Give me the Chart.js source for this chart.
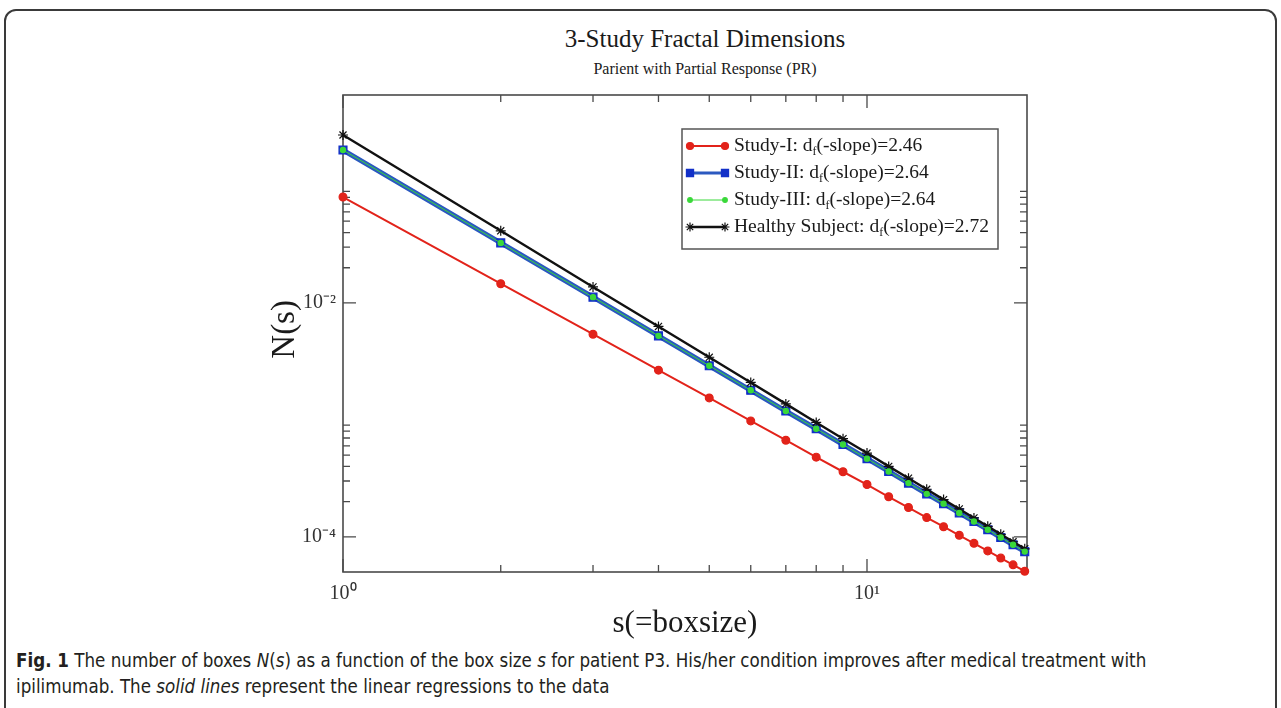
<!DOCTYPE html>
<html>
<head>
<meta charset="utf-8">
<script src="https://cdn.jsdelivr.net/npm/chart.js@4.4.0/dist/chart.umd.min.js"></script>
<style>
  html, body { margin: 0; padding: 0; background: #fff; }
  body { width: 1281px; height: 708px; position: relative; overflow: hidden; }
  #box { position: absolute; left: 4px; top: 9px; width: 1273px; height: 760px; border: 2px solid #3a3a3a; border-radius: 12px; box-sizing: border-box; }
  #wrap { position: absolute; left: 0; top: 0; width: 1281px; height: 645px; }
  .ttl { position: absolute; left: 363px; width: 684px; text-align: center; font-family: "Liberation Serif", "Times New Roman", serif; color: #1a1a1a; white-space: nowrap; }
  #title { top: 25px; font-size: 25px; }
  #subtitle { top: 60px; font-size: 16px; }
  #caption { position: absolute; left: 16px; top: 648px; font-family: "Liberation Sans Narrow", "DejaVu Sans Condensed", sans-serif; font-size: 18.6px; line-height: 26px; color: #231f20; white-space: nowrap; }
</style>
</head>
<body>
<div id="box"></div>
<div id="title" class="ttl">3-Study Fractal Dimensions</div>
<div id="subtitle" class="ttl">Parient with Partial Response (PR)</div>
<div id="wrap"><canvas id="chart"></canvas></div>
<div id="caption"><b>Fig. 1</b> The number of boxes <i>N</i>(<i>s</i>) as a function of the box size <i>s</i> for patient P3. His/her condition improves after medical treatment with<br>ipilimumab. The <i>solid lines</i> represent the linear regressions to the data</div>
<script>
// box sizes s and box counts N(s)
const boxSizes = [1, 2, 3, 4, 5, 6, 7, 8, 9, 10, 11, 12, 13, 14, 15, 16, 17, 18, 19, 20];
const studyI = [0.0805, 0.0146, 0.0054, 0.00266, 0.00154, 0.00098, 0.00067, 0.00048, 0.00036, 0.00028,
                0.00022, 0.000178, 0.000146, 0.000122, 0.000103, 0.000088, 0.0000757, 0.0000658, 0.0000576, 0.0000508];
const studyII = [0.203, 0.0326, 0.0112, 0.00523, 0.0029, 0.00179, 0.00119, 0.00084, 0.000615, 0.000466,
                 0.000362, 0.000288, 0.000233, 0.000192, 0.00016, 0.000135, 0.000115, 0.0000986, 0.0000855, 0.0000747];
const studyIII = [0.203, 0.0326, 0.0112, 0.00523, 0.0029, 0.00179, 0.00119, 0.00084, 0.000615, 0.000466,
                  0.000362, 0.000288, 0.000233, 0.000192, 0.00016, 0.000135, 0.000115, 0.0000986, 0.0000855, 0.0000747];
const healthy = [0.273, 0.0414, 0.0137, 0.00629, 0.00343, 0.00209, 0.00137, 0.00095, 0.00069, 0.00052,
                 0.0004, 0.000317, 0.000255, 0.000208, 0.000173, 0.000145, 0.000123, 0.000105, 0.0000907, 0.0000789];

const seriesNames = ["Study-I", "Study-II", "Study-III", "Healthy Subject"];
const slopes = ["2.46", "2.64", "2.64", "2.72"];

const xMajor = [1, 10];
const xMinor = [2, 3, 4, 5, 6, 7, 8, 9];
const yMajor = [1e-4, 1e-2];
const yMinor = [2e-4, 3e-4, 4e-4, 5e-4, 6e-4, 7e-4, 8e-4, 9e-4, 2e-2, 3e-2, 4e-2, 5e-2, 6e-2, 7e-2, 8e-2, 9e-2];

const SERIF = "'Liberation Serif', 'Times New Roman', serif";
const sup = { "0": "\u2070", "1": "\u00b9", "2": "\u00b2", "3": "\u00b3", "4": "\u2074", "-": "\u207b" };
const powLabel = v => "10" + String(Math.round(Math.log10(v))).split("").map(c => sup[c]).join("");

const styles = [
  { color: "#e2231a", width: 2, point: "circle", r: 3.9, pcolor: "#e2231a", order: 3 },
  { color: "#2b59c0", width: 5, point: "rect", r: 5.6, pcolor: "#1230c8", order: 2 },
  { color: "#3ad83a", width: 1, point: "circle", r: 2.6, pcolor: "#3ad83a", order: 0 },
  { color: "#111111", width: 2.4, point: "star", r: 5, pcolor: "#111111", order: 1 }
];
const seriesData = [studyI, studyII, studyIII, healthy];

// frame, inward ticks on all four sides, and the legend box
const framePlugin = {
  id: "frame",
  beforeDatasetsDraw(chart) {
    const { ctx, chartArea: a, scales: { x, y } } = chart;
    ctx.save();
    ctx.strokeStyle = "#4a4a4a";
    ctx.lineWidth = 1.6;
    ctx.strokeRect(a.left, a.top, a.right - a.left, a.bottom - a.top);
    ctx.lineWidth = 1.3;
    const tick = (vals, len) => {
      vals.forEach(v => {
        const px = x.getPixelForValue(v);
        ctx.beginPath();
        ctx.moveTo(px, a.bottom); ctx.lineTo(px, a.bottom - len);
        ctx.moveTo(px, a.top); ctx.lineTo(px, a.top + len);
        ctx.stroke();
      });
    };
    const ytick = (vals, len) => {
      vals.forEach(v => {
        const py = y.getPixelForValue(v);
        ctx.beginPath();
        ctx.moveTo(a.left, py); ctx.lineTo(a.left + len, py);
        ctx.moveTo(a.right, py); ctx.lineTo(a.right - len, py);
        ctx.stroke();
      });
    };
    tick(xMajor, 13); tick(xMinor, 7);
    ytick(yMajor, 13); ytick(yMinor, 7);
    ctx.restore();
  },
  afterDraw(chart) {
    const { ctx } = chart;
    const L = 682, T = 129, R = 998, B = 249;
    ctx.save();
    ctx.fillStyle = "#fff";
    ctx.fillRect(L, T, R - L, B - T);
    ctx.strokeStyle = "#555";
    ctx.lineWidth = 1.5;
    ctx.strokeRect(L, T, R - L, B - T);
    seriesNames.forEach((name, i) => {
      const st = styles[i];
      const cy = T + 17 + i * 27;
      const x0 = L + 8, x1 = L + 43;
      ctx.strokeStyle = st.color;
      ctx.lineWidth = Math.min(st.width, 3);
      ctx.beginPath(); ctx.moveTo(x0, cy); ctx.lineTo(x1, cy); ctx.stroke();
      ctx.fillStyle = st.pcolor;
      ctx.strokeStyle = st.pcolor;
      ctx.lineWidth = 1.2;
      [x0, x1].forEach(px => {
        Chart.helpers.drawPoint(ctx, { pointStyle: st.point, radius: st.r * 0.9, borderWidth: 1.2 }, px, cy);
      });
      ctx.fillStyle = "#1a1a1a";
      ctx.textBaseline = "middle";
      ctx.font = "19.5px " + SERIF;
      let tx = x1 + 9;
      const head = name + ": d";
      ctx.fillText(head, tx, cy);
      tx += ctx.measureText(head).width;
      ctx.font = "12px " + SERIF;
      ctx.fillText("f", tx, cy + 6);
      tx += ctx.measureText("f").width;
      ctx.font = "19.5px " + SERIF;
      ctx.fillText("(-slope)=" + slopes[i], tx, cy);
    });
    ctx.restore();
  }
};

new Chart(document.getElementById("chart"), {
  type: "line",
  data: {
    datasets: seriesData.map((vals, i) => ({
      label: seriesNames[i],
      data: boxSizes.map((s, j) => ({ x: s, y: vals[j] })),
      borderColor: styles[i].color,
      backgroundColor: styles[i].pcolor,
      borderWidth: styles[i].width,
      pointStyle: styles[i].point,
      pointRadius: styles[i].r,
      pointBorderColor: styles[i].pcolor,
      pointBackgroundColor: styles[i].pcolor,
      pointBorderWidth: 1.2,
      tension: 0,
      clip: false,
      order: styles[i].order
    }))
  },
  options: {
    responsive: true, maintainAspectRatio: false, animation: false,
    layout: { padding: { top: 95, right: 254, left: 0, bottom: 0 } },
    plugins: { legend: { display: false }, tooltip: { enabled: false } },
    scales: {
      x: {
        type: "logarithmic", min: 1, max: 20.2,
        grid: { display: false, drawTicks: false, tickLength: 0 },
        border: { display: false },
        afterBuildTicks: s => { s.ticks = xMajor.map(v => ({ value: v })); },
        afterFit: s => { s.height = 73; },
        ticks: { autoSkip: false, maxRotation: 0, padding: 10, color: "#333", font: { family: SERIF, size: 20 }, callback: v => powLabel(v) },
        title: { display: true, text: "s(=boxsize)", color: "#1a1a1a", font: { family: SERIF, size: 31 }, padding: { top: 0, bottom: 3 } }
      },
      y: {
        type: "logarithmic", min: 5e-5, max: 0.6,
        grid: { display: false, drawTicks: false, tickLength: 0 },
        border: { display: false },
        afterBuildTicks: s => { s.ticks = yMajor.map(v => ({ value: v })); },
        afterFit: s => { s.width = 343; },
        ticks: { autoSkip: false, padding: 7, color: "#333", font: { family: SERIF, size: 20 }, callback: v => powLabel(v) },
        title: { display: true, text: " N(s)", color: "#1a1a1a", font: { family: SERIF, size: 33 }, padding: { top: 266, bottom: 0 } }
      }
    }
  },
  plugins: [framePlugin]
});
</script>
</body>
</html>
